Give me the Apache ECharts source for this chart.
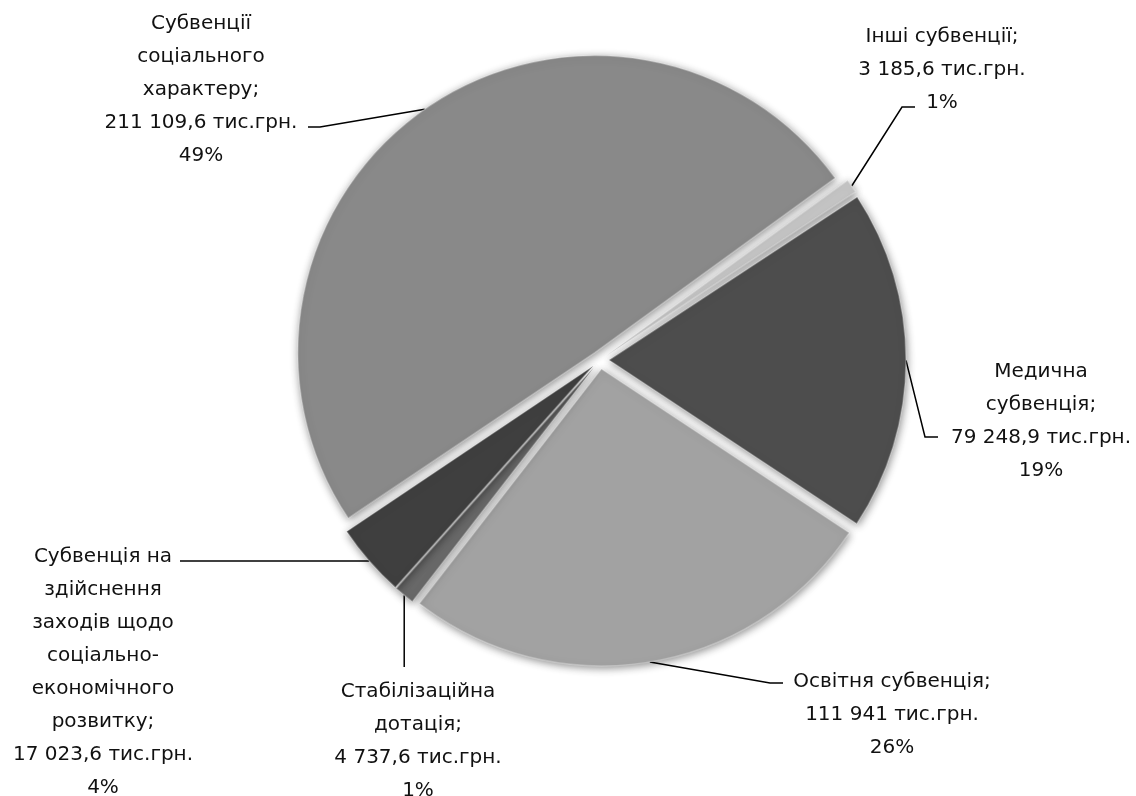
<!DOCTYPE html>
<html><head><meta charset="utf-8">
<script src="https://cdn.jsdelivr.net/npm/echarts@6/dist/echarts.min.js"></script>
<style>html,body{margin:0;padding:0;background:#fff}#chart{width:1136px;height:796px}</style>
</head><body><div id="chart"></div>
<script>
// ---- data ----
const categories = [
  'Інші субвенції',
  'Медична\nсубвенція',
  'Освітня субвенція',
  'Стабілізаційна\nдотація',
  'Субвенція на\nздійснення\nзаходів щодо\nсоціально-\nекономічного\nрозвитку',
  'Субвенції\nсоціального\nхарактеру'
];
const values = [3185.6, 79248.9, 111941, 4737.6, 17023.6, 211109.6];
const valueUnit = 'тис.грн.';

// ---- styling / layout ----
const sliceColors = ['#c6c6c6', '#4d4d4d', '#a2a2a2', '#686868', '#3f3f3f', '#898989'];
const labelCenters = [[942, 70], [1041, 421], [892, 715], [418, 741], [103, 672], [201, 90]];
// leader line bends (after the slice anchor point)
const leaderBends = [
  [[902, 107], [915, 107]],
  [[925, 437], [938, 437]],
  [[770, 683], [783, 683]],
  [['x', 667]],
  [[180, 'y']],
  [[320, 127], [308, 127]]
];
const pieCenter = [600, 360];
const pieRadius = 297;
const explode = 9;
const startAngle = 36;

function fmtNum(v) {
  const parts = String(v).split('.');
  const intPart = parts[0].replace(/\B(?=(\d{3})+(?!\d))/g, ' ');
  return parts[1] ? intPart + ',' + parts[1] : intPart;
}

const chart = echarts.init(document.getElementById('chart'), null, {renderer: 'canvas'});
chart.setOption({
  animation: false,
  backgroundColor: '#ffffff',
  series: [{
    // exploded slices
    type: 'pie',
    center: pieCenter,
    radius: pieRadius,
    startAngle: startAngle,
    clockwise: true,
    selectedMode: 'multiple',
    selectedOffset: explode,
    emphasis: {disabled: true},
    silent: true,
    itemStyle: {
      borderWidth: 1.5,
      borderColor: 'rgba(255,255,255,0.28)',
      shadowBlur: 8,
      shadowColor: 'rgba(0,0,0,0.45)',
      shadowOffsetX: 1,
      shadowOffsetY: 2
    },
    label: {show: false},
    labelLine: {show: false},
    data: categories.map((name, i) => ({
      name: name,
      value: values[i],
      selected: true,
      itemStyle: {color: sliceColors[i]}
    }))
  }, {
    // labels and leader lines
    type: 'pie',
    center: pieCenter,
    radius: pieRadius + explode,
    startAngle: startAngle,
    clockwise: true,
    percentPrecision: 0,
    avoidLabelOverlap: false,
    emphasis: {disabled: true},
    silent: true,
    itemStyle: {color: 'rgba(0,0,0,0)'},
    label: {
      show: true,
      position: 'outside',
      fontFamily: 'DejaVu Sans',
      fontSize: 20,
      lineHeight: 33,
      color: '#111111',
      align: 'center',
      formatter: p => p.name + ';\n' + fmtNum(p.value) + ' ' + valueUnit + '\n' + p.percent + '%'
    },
    labelLine: {
      show: true,
      length: 20,
      length2: 10,
      lineStyle: {color: '#000000', width: 1.5}
    },
    labelLayout: function (params) {
      const i = params.dataIndex;
      const c = labelCenters[i];
      const res = {x: c[0], y: c[1], align: 'center', verticalAlign: 'middle'};
      if (params.labelLinePoints && params.labelLinePoints.length) {
        const p0 = params.labelLinePoints[0];
        const pts = [[p0[0], p0[1]]];
        leaderBends[i].forEach(b => {
          pts.push([b[0] === 'x' ? p0[0] : b[0], b[1] === 'y' ? p0[1] : b[1]]);
        });
        res.labelLinePoints = pts;
      }
      return res;
    },
    data: categories.map((name, i) => ({name: name, value: values[i]}))
  }]
});
</script></body></html>
